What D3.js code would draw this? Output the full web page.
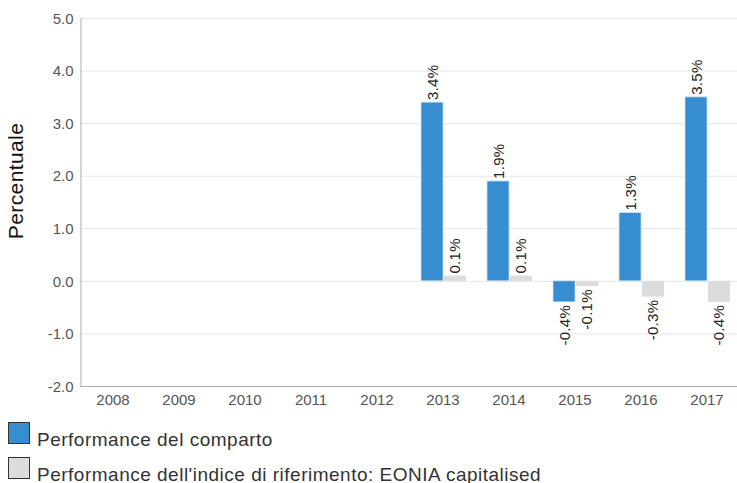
<!DOCTYPE html>
<html>
<head>
<meta charset="utf-8">
<script src="https://cdn.jsdelivr.net/npm/d3@7"></script>
<style>
    body { margin: 0; background: #fff; }
    svg { font-family: "Liberation Sans", Arial, sans-serif; }
</style>
</head>
<body>
<script>
// Chart data
var years = ["2008", "2009", "2010", "2011", "2012",
             "2013", "2014", "2015", "2016", "2017"];
var seriesNames = ["Performance del comparto",
                   "Performance dell'indice di riferimento: EONIA capitalised"];
var fundValues = [null, null, null, null, null, 3.4, 1.9, -0.4, 1.3, 3.5];
var indexValues = [null, null, null, null, null, 0.1, 0.1, -0.1, -0.3, -0.4];
var yTicks = [-2, -1, 0, 1, 2, 3, 4, 5];
var colors = ["#368dcf", "#dcdcdc"];

var W = 737, H = 483;
var margin = {top: 18, left: 80, bottom: 97};
var plotBottom = H - margin.bottom;

// plain hyphen, one decimal
function fmt(d) { return d.toFixed(1); }

var svg = d3.select("body").append("svg")
    .attr("width", W)
    .attr("height", H);

// scales
var x = d3.scaleBand().domain(years).range([margin.left, 740]);
var y = d3.scaleLinear().domain([-2, 5]).range([plotBottom, margin.top]);
// two bars of ~22px side by side, centred in the year band
var x1 = d3.scaleBand().domain([0, 1])
    .range([11, x.bandwidth() - 10]).paddingInner(0.04);

// grid lines
svg.append("g").selectAll("line")
    .data(yTicks.filter(function(d) { return d > -2; }))
    .enter().append("line")
    .attr("x1", margin.left).attr("x2", W)
    .attr("y1", function(d) { return y(d) + 0.5; })
    .attr("y2", function(d) { return y(d) + 0.5; })
    .attr("stroke", "#e6e6e6");

// y axis
var yAxis = d3.axisLeft(y).tickValues(yTicks)
    .tickFormat(fmt).tickSize(0).tickPadding(7);
var gy = svg.append("g")
    .attr("transform", "translate(" + (margin.left + 0.5) + ",0)")
    .call(yAxis);
gy.select(".domain").attr("stroke", "#aaa");
gy.selectAll("text").attr("font-size", "15px").attr("fill", "#555")
    .attr("dy", "0.35em");

// x axis
var xAxis = d3.axisBottom(x).tickSize(0).tickPadding(8);
var gx = svg.append("g")
    .attr("transform", "translate(0," + (plotBottom + 0.5) + ")")
    .call(xAxis);
gx.select(".domain").attr("stroke", "#aaa")
    .attr("d", "M" + margin.left + ",0H" + W);
gx.selectAll("text").attr("font-size", "15px").attr("fill", "#555");

// bars
var series = [fundValues, indexValues];
series.forEach(function(vals, si) {
    var data = years.map(function(yr, i) { return {year: yr, v: vals[i]}; })
        .filter(function(d) { return d.v !== null; });

    svg.append("g").selectAll("rect")
        .data(data)
        .enter().append("rect")
        .attr("x", function(d) { return x(d.year) + x1(si); })
        .attr("width", x1.bandwidth())
        .attr("y", function(d) { return y(Math.max(0, d.v)); })
        .attr("height", function(d) { return Math.abs(y(d.v) - y(0)); })
        .attr("fill", colors[si])
        .attr("stroke", si === 0 ? "#cfe3f3" : "none")
        .attr("stroke-width", 0.8);

    // value labels, rotated
    svg.append("g").selectAll("text")
        .data(data)
        .enter().append("text")
        .attr("transform", function(d) {
            var cx = x(d.year) + x1(si) + x1.bandwidth() / 2;
            var cy = d.v >= 0 ? y(d.v) - 2 : y(d.v) + 3;
            return "translate(" + (cx + 5.5) + "," + cy + ")rotate(-90)";
        })
        .attr("text-anchor", function(d) { return d.v >= 0 ? "start" : "end"; })
        .attr("font-size", "15px")
        .attr("letter-spacing", "0.3px")
        .attr("fill", "#222")
        .text(function(d) { return fmt(d.v) + "%"; });
});

// y axis title
svg.append("text")
    .attr("transform", "translate(23," + y(1.9) + ")rotate(-90)")
    .attr("text-anchor", "middle")
    .attr("font-size", "21px")
    .attr("letter-spacing", "0.4px")
    .attr("fill", "#111")
    .text("Percentuale");

// legend
var legend = svg.append("g").selectAll("g")
    .data(seriesNames)
    .enter().append("g")
    .attr("transform", function(d, i) {
        return "translate(8," + (422 + i * 35) + ")";
    });
legend.append("rect")
    .attr("x", 0.5).attr("y", 0.5)
    .attr("width", 21).attr("height", 21)
    .attr("fill", function(d, i) { return colors[i]; })
    .attr("stroke", "#333");
legend.append("text")
    .attr("x", 29).attr("y", 23.5)
    .attr("font-size", "19px")
    .attr("letter-spacing", "0.5px")
    .attr("fill", "#333")
    .text(function(d) { return d; });
</script>
</body>
</html>
